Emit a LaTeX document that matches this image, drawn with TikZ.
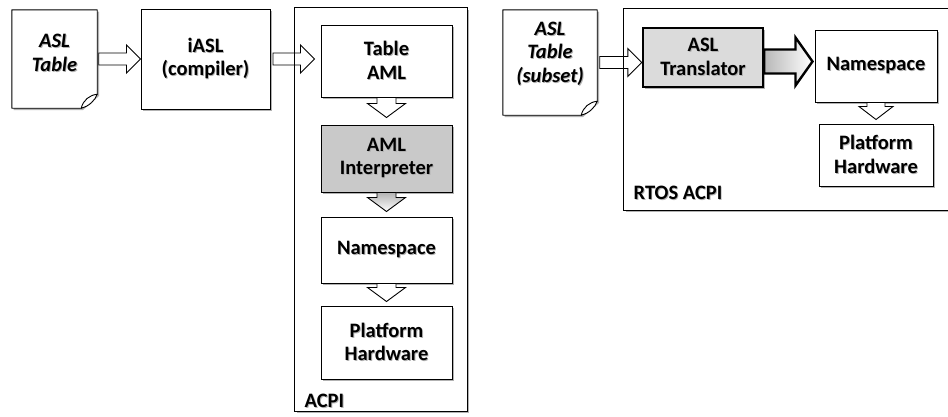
\documentclass[tikz,border=0pt]{standalone}
\usepackage{fontspec}
\setmainfont{Carlito}
\usetikzlibrary{calc,shadows}

% text with a soft grey shadow behind it
\newcommand\shtxt[1]{\leavevmode\rlap{\kern0.9pt\raisebox{-0.9pt}{\textcolor{black!30}{#1}}}#1}

% horizontal block arrow: [style]{start}{tip}{body half}{head half}{head length}
\newcommand\harrow[6][]{%
  \path[blockarrow,#1] let \p1=(#2), \p2=(#3) in
    (\x1,\y1+#4) -- (\x2-#6,\y1+#4) -- (\x2-#6,\y1+#5) -- (\x2,\y1)
    -- (\x2-#6,\y1-#5) -- (\x2-#6,\y1-#4) -- (\x1,\y1-#4) -- cycle;}

% vertical block arrow pointing down: [style]{start}{tip}{body half}{head half}{head length}
\newcommand\varrow[6][]{%
  \path[blockarrow,#1] let \p1=(#2), \p2=(#3) in
    (\x1-#4,\y1) -- (\x1-#4,\y2+#6) -- (\x1-#5,\y2+#6) -- (\x1,\y2)
    -- (\x1+#5,\y2+#6) -- (\x1+#4,\y2+#6) -- (\x1+#4,\y1) -- cycle;}

% sheet of paper with a curled lower right corner
\newcommand\docsheet[1]{%
  \path[draw, line width=0.9pt, fill=white, boxshadow, line join=round]
    (#1.north west) -- (#1.north east) -- ([yshift=14pt]#1.south east)
    -- ([xshift=-16pt]#1.south east) -- (#1.south west) -- cycle;
  \path[draw, line width=0.9pt, fill=white, line join=round]
    ([xshift=-16pt]#1.south east)
      .. controls +(2pt,8pt) and +(-8pt,-1pt) .. ([yshift=14pt]#1.south east)
      .. controls +(-2pt,-6pt) and +(8pt,2pt) .. ([xshift=-16pt]#1.south east) -- cycle;}

\tikzset{
  every node/.style={font=\fontsize{20.5}{23.5}\selectfont\bfseries, align=center},
  boxshadow/.style={drop shadow={shadow xshift=1.8pt, shadow yshift=-1.8pt, opacity=0.3, fill=black}},
  stagebox/.style={draw, line width=1pt, fill=white, inner sep=0pt, boxshadow},
  greybox/.style={stagebox, fill=black!21},
  heavybox/.style={stagebox, fill=black!14, line width=2.4pt},
  container/.style={inner sep=0pt, fill=white, boxshadow},
  containerline/.style={draw, line width=1.1pt},
  docbox/.style={inner sep=0pt},
  doctext/.style={font=\fontsize{20.5}{23.5}\selectfont\bfseries\itshape},
  tag/.style={anchor=west, inner sep=0pt},
  blockarrow/.style={draw, line width=0.9pt, fill=white, line join=miter},
  heavyarrow/.style={line width=2.4pt, left color=black!28, right color=white},
  fadearrow/.style={top color=black!30, bottom color=white},
}

\begin{document}
\begin{tikzpicture}[x=1pt, y=-1pt]
\useasboundingbox (0,0) rectangle (948,416);
\clip (0,0) rectangle (948,416);

% ---------- containers (background) ----------
\node[container, minimum width=172pt, minimum height=403pt] (acpi) at (381,209.5) {};
\node[container, minimum width=328pt, minimum height=201pt] (rtos) at (788,109.5) {};

% ---------- left tool chain ----------
\node[docbox, minimum width=85pt, minimum height=98pt] (doc1) at (54.5,59) {};
\docsheet{doc1}
\node[doctext] (doc1text) at ([yshift=5.5pt]doc1.center) {\shtxt{ASL}\\\shtxt{Table}};

\node[stagebox, minimum width=129pt, minimum height=100pt] (iasl) at (205.5,59)
  {\shtxt{iASL}\\\shtxt{(compiler)}};

% ---------- ACPI stack ----------
\node[stagebox, minimum width=131pt, minimum height=72pt] (tableaml) at (386.5,61)
  {\shtxt{Table}\\\shtxt{AML}};
\node[greybox, minimum width=131pt, minimum height=67pt] (aml) at (386.5,158.5)
  {\shtxt{AML}\\\shtxt{Interpreter}};
\node[stagebox, minimum width=131pt, minimum height=66pt] (ns1) at (386.5,250)
  {\shtxt{Namespace}};
\node[stagebox, minimum width=131pt, minimum height=73pt] (plat1) at (386.5,342.5)
  {\shtxt{Platform}\\\shtxt{Hardware}};
\node[tag] (acpilabel) at (304.5,401) {\shtxt{ACPI}};

% ---------- RTOS side ----------
\node[docbox, minimum width=94pt, minimum height=105pt] (doc2) at (550,62.5) {};
\docsheet{doc2}
\node[doctext] (doc2text) at ([yshift=8.5pt]doc2.center)
  {\shtxt{ASL}\\\shtxt{Table}\\\shtxt{(subset)}};

\node[heavybox, minimum width=120pt, minimum height=59pt] (transl) at (703,57.5)
  {\shtxt{ASL}\\\shtxt{Translator}};
\node[stagebox, minimum width=122pt, minimum height=72pt] (ns2) at (876,66)
  {\shtxt{Namespace}};
\node[stagebox, minimum width=114pt, minimum height=62pt] (plat2) at (876,155)
  {\shtxt{Platform}\\\shtxt{Hardware}};
\node[tag] (rtoslabel) at (633.5,193) {\shtxt{RTOS ACPI}};

% ---------- connectors ----------
\harrow{[xshift=1.5pt]doc1.east}{iasl.west}{6pt}{14pt}{14pt}
\harrow{[xshift=2.5pt]iasl.east}{[xshift=-6pt]tableaml.west}{6pt}{14pt}{14pt}
\varrow{tableaml.south}{[yshift=7pt]aml.north}{9.5pt}{19pt}{14pt}
\varrow[fadearrow]{aml.south}{[yshift=5pt]ns1.north}{9.5pt}{19pt}{14pt}
\varrow{ns1.south}{[yshift=4pt]plat1.north}{9.5pt}{19pt}{14pt}

\harrow{[xshift=2.5pt]doc2.east}{transl.west}{6pt}{14pt}{14pt}
\harrow[heavyarrow]{[yshift=-4pt]transl.east}{[xshift=-2pt]ns2.west}{12pt}{24pt}{17pt}
\varrow{ns2.south}{[yshift=4pt]plat2.north}{9pt}{17pt}{13pt}

% container outlines stay visible across the arrows
\draw[containerline] (acpi.north west) rectangle (acpi.south east);
\draw[containerline] (rtos.north west) rectangle (rtos.south east);
\end{tikzpicture}
\end{document}
